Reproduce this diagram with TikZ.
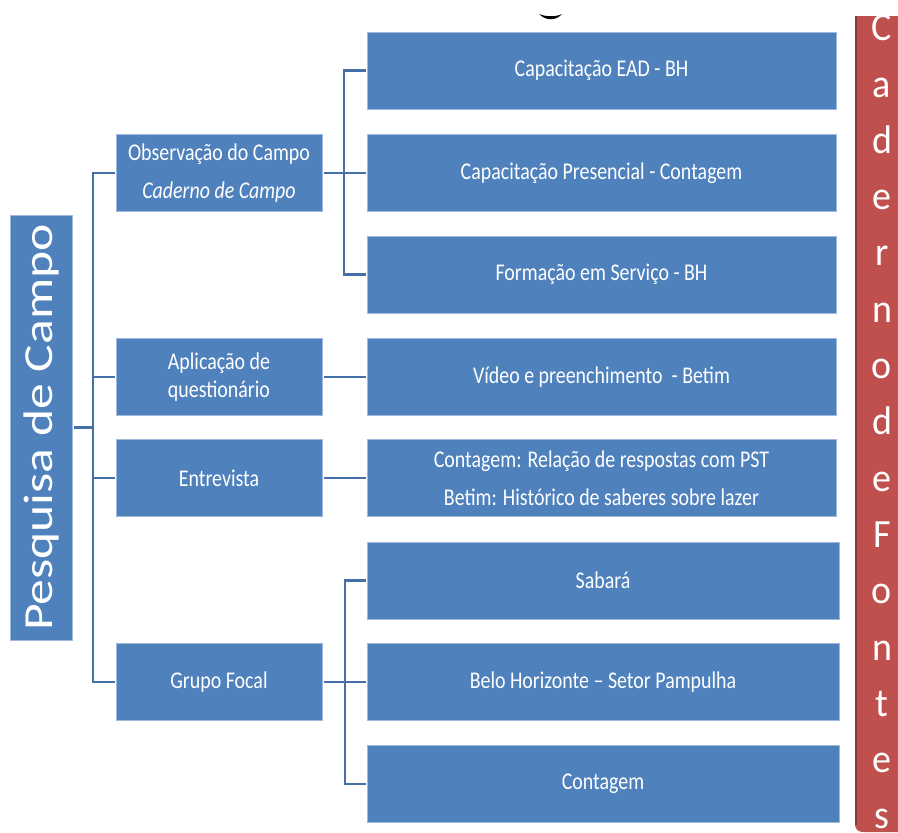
\documentclass[tikz,border=0pt]{standalone}
\usepackage{fontspec}
\usepackage{graphicx}
\setmainfont{Carlito}
\newfontfamily\boxfont[FakeStretch=0.83]{Carlito}
\newfontfamily\barfont[FakeStretch=0.95]{Carlito}
\newfontfamily\tallfont[FakeStretch=1.25]{Carlito}
\definecolor{boxblue}{HTML}{4F81BD}
\definecolor{boxedge}{HTML}{9DB9DE}
\definecolor{connblue}{HTML}{4470A6}
\definecolor{redfill}{HTML}{C0504D}
\definecolor{rededge}{HTML}{8C3533}
\begin{document}
\begin{tikzpicture}[x=1pt,y=-1pt,
  box/.style={rectangle, fill=boxblue, draw=boxedge, line width=0.8pt, inner sep=0pt,
    text=white, align=center, outer sep=1.5pt, font=\boxfont\fontsize{24}{29}\selectfont},
  lvltwo/.style={box, minimum width=206pt, minimum height=77pt},
  lvlthree/.style={box, minimum width=469pt, minimum height=77pt},
  lvlthreeb/.style={box, minimum width=472pt, minimum height=77pt},
  wide/.style={font=\boxfont\fontsize{24}{38}\selectfont},
  conn/.style={draw=connblue, line width=2.9pt},
]
\useasboundingbox (0,0) rectangle (898,833);

% partial glyph at the top
\fill[black] (539,14) .. controls (546,21) and (556,21) .. (562,14) .. controls (556,17) and (546,17) .. (539,14);

% root
\node[box, minimum width=62pt, minimum height=425pt] (P) at (41,427.5)
  {\rotatebox{90}{\tallfont\fontsize{41.3}{48}\selectfont Pesquisa de Campo}};

% level two
\node[lvltwo, wide] (obs) at (219,173) {Observação do Campo\\\textit{Caderno de Campo}};
\node[lvltwo, font=\boxfont\fontsize{24}{28}\selectfont] (apl) at (219,377) {Aplicação de\\questionário};
\node[lvltwo] (ent) at (219,478) {Entrevista};
\node[lvltwo] (grp) at (219,682) {Grupo Focal};

% level three
\node[lvlthree] (cap1) at (601.5,70.5) {Capacitação EAD - BH};
\node[lvlthree] (cap2) at (601.5,173) {Capacitação Presencial - Contagem};
\node[lvlthree] (form) at (601.5,274.5) {Formação em Serviço - BH};
\node[lvlthree] (vid) at (601.5,377) {Vídeo e preenchimento ~- Betim};
\node[lvlthree, wide] (ent3) at (601.5,478) {Contagem: Relação de respostas com PST\\Betim: Histórico de saberes sobre lazer};
\node[lvlthreeb] (sab) at (603,580.5) {Sabará};
\node[lvlthreeb] (belo) at (603,682) {Belo Horizonte – Setor Pampulha};
\node[lvlthreeb] (cont) at (603,784) {Contagem};

% connectors: root to level two
\coordinate (tr1) at (93,0);
\draw[conn] (P.east) -- (P.east -| tr1);
\draw[conn] (obs.west) -| (tr1 |- grp.west) -- (grp.west);
\draw[conn] (apl.west) -- (apl.west -| tr1);
\draw[conn] (ent.west) -- (ent.west -| tr1);

% connectors: level two to level three
\coordinate (tr2) at (344,0);
\draw[conn] (obs.east) -- (cap2.west);
\draw[conn] (cap1.west) -| (tr2 |- form.west) -- (form.west);
\draw[conn] (apl.east) -- (vid.west);
\draw[conn] (ent.east) -- (ent3.west);
\coordinate (tr3) at (345,0);
\draw[conn] (grp.east) -- (belo.west);
\draw[conn] (sab.west) -| (tr3 |- cont.west) -- (cont.west);

% red side bar
\fill[redfill] (910,16) -- (855,16) -- (855,824) .. controls (855,829) and (858,832) .. (863,832) -- (910,832) -- cycle;
\draw[rededge, line width=2.4pt] (856.2,16) -- (856.2,825);
\node[text=white, align=center, inner sep=0pt, font=\barfont\fontsize{40}{56.3}\selectfont] (cf) at (882,422)
  {C\\a\\d\\e\\r\\n\\o\\d\\e\\F\\o\\n\\t\\e\\s};
\end{tikzpicture}
\end{document}
